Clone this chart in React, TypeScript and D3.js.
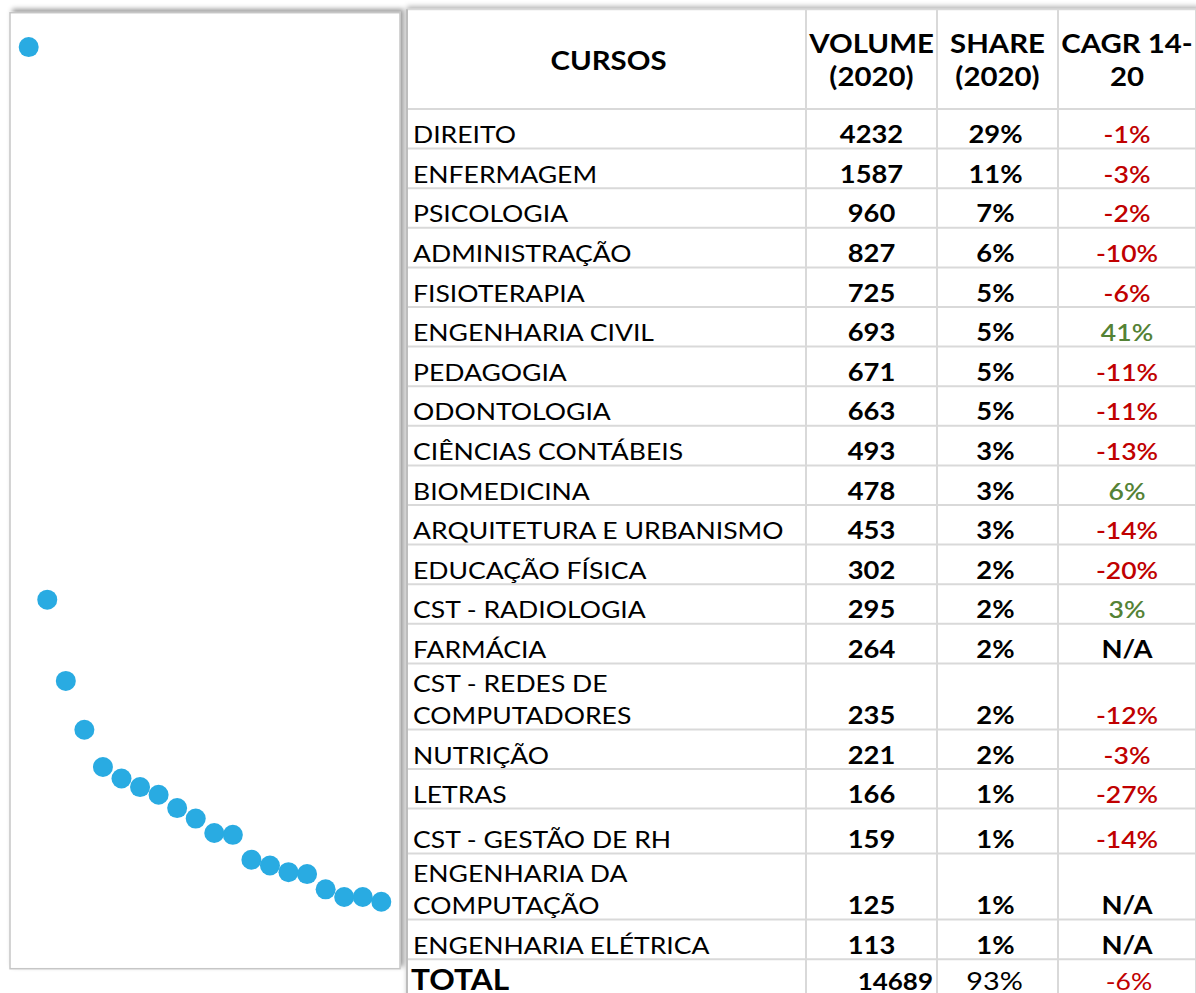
import React, { useEffect, useRef } from "react";
import * as d3 from "d3";

// course table (2020)
const courses = [
  "DIREITO", "ENFERMAGEM", "PSICOLOGIA", "ADMINISTRAÇÃO", "FISIOTERAPIA",
  "ENGENHARIA CIVIL", "PEDAGOGIA", "ODONTOLOGIA", "CIÊNCIAS CONTÁBEIS", "BIOMEDICINA",
  "ARQUITETURA E URBANISMO", "EDUCAÇÃO FÍSICA", "CST - RADIOLOGIA", "FARMÁCIA",
  "CST - REDES DE\nCOMPUTADORES", "NUTRIÇÃO", "LETRAS", "CST - GESTÃO DE RH",
  "ENGENHARIA DA\nCOMPUTAÇÃO", "ENGENHARIA ELÉTRICA",
];
const volumes = [4232, 1587, 960, 827, 725, 693, 671, 663, 493, 478, 453, 302, 295, 264, 235, 221, 166, 159, 125, 113];
const shares = [29, 11, 7, 6, 5, 5, 5, 5, 3, 3, 3, 2, 2, 2, 2, 2, 1, 1, 1, 1];
const cagr = [-1, -3, -2, -10, -6, 41, -11, -11, -13, 6, -14, -20, 3, null, -12, -3, -27, -14, null, null];
const headers = [["CURSOS"], ["VOLUME", "(2020)"], ["SHARE", "(2020)"], ["CAGR 14-", "20"]];
const totalLabel = "TOTAL";
const totalVolume = 14689;
const totalShare = 93;
const totalCagr = -6;

// dots of the left panel (relative units 0-100)
const dotValues = [96.4, 38.6, 30.1, 25.0, 21.1, 19.9, 19.0, 18.2, 16.8, 15.7, 14.2, 14.0, 11.4, 10.8, 10.1, 9.9, 8.3, 7.5, 7.5, 7.0];

const W = 1196;
const H = 993;
const FONT = "Lato, 'Open Sans', sans-serif";
const SX = 1.13; // table text looks horizontally stretched in the source

export default function App() {
  const ref = useRef<SVGSVGElement | null>(null);

  useEffect(() => {
    const svg = d3.select(ref.current);
    svg.selectAll("*").remove();

    const defs = svg.append("defs");
    const sh1 = defs.append("filter").attr("id", "boxShadow").attr("x", "-5%").attr("y", "-5%").attr("width", "110%").attr("height", "110%");
    sh1.append("feDropShadow").attr("dx", 3).attr("dy", -3).attr("stdDeviation", 2.5)
      .attr("flood-color", "#000").attr("flood-opacity", 0.4);
    const sh2 = defs.append("filter").attr("id", "tblShadow").attr("x", "-5%").attr("y", "-5%").attr("width", "110%").attr("height", "110%");
    sh2.append("feDropShadow").attr("dx", 0).attr("dy", -3).attr("stdDeviation", 2.5)
      .attr("flood-color", "#000").attr("flood-opacity", 0.3);

    // ---- left panel: dots ----
    const box = { x: 10, y: 12.7, w: 390, h: 956 };
    svg.append("rect")
      .attr("x", box.x).attr("y", box.y).attr("width", box.w).attr("height", box.h)
      .attr("fill", "#fff").attr("stroke", "#c6c6c6").attr("stroke-width", 1.5)
      .attr("filter", "url(#boxShadow)");

    const x = d3.scalePoint<string>().domain(courses).range([28.7, 381.3]);
    const y = d3.scaleLinear().domain([0, 100]).range([box.y + box.h, box.y]);

    svg.append("g")
      .selectAll("circle")
      .data(dotValues)
      .join("circle")
      .attr("cx", (d, i) => x(courses[i]) as number)
      .attr("cy", (d) => y(d))
      .attr("r", 10)
      .attr("fill", "#29abe2");

    // ---- right panel: table ----
    const colX = [407, 806, 937, 1058, 1196];
    const headTop = 9.3;
    const headBottom = 109;
    const rowHeights = courses.map((c) =>
      c.includes("\n") ? 66 : c === "CST - GESTÃO DE RH" ? 45 : 39.6
    );
    const rowTops: number[] = [];
    let acc = headBottom;
    rowHeights.forEach((h) => {
      rowTops.push(acc);
      acc += h;
    });
    const totalTop = acc;
    const totalBottom = totalTop + 42;

    const tbl = svg.append("g");
    tbl.append("rect")
      .attr("x", colX[0]).attr("y", headTop)
      .attr("width", colX[4] - colX[0] + 4).attr("height", totalBottom - headTop)
      .attr("fill", "#fff").attr("filter", "url(#tblShadow)");

    const gridColor = "#d9d9d9";
    const hLines = [headTop, headBottom, ...rowTops.slice(1), totalTop];
    tbl.append("g").selectAll("line").data(hLines).join("line")
      .attr("x1", colX[0]).attr("x2", colX[4] + 4)
      .attr("y1", (d) => d).attr("y2", (d) => d)
      .attr("stroke", gridColor).attr("stroke-width", 2);
    tbl.append("g").selectAll("line").data(colX).join("line")
      .attr("x1", (d) => d).attr("x2", (d) => d)
      .attr("y1", headTop).attr("y2", totalBottom)
      .attr("stroke", (d, i) => (i === 0 ? "#bdbdbd" : gridColor)).attr("stroke-width", 2);

    const centers = colX.slice(0, 4).map((c, i) => (c + colX[i + 1]) / 2);

    const label = (
      tx: number, ty: number, txt: string,
      opts: { size: number; weight?: number; anchor?: string; fill?: string }
    ) =>
      tbl.append("text")
        .attr("transform", `translate(${tx},${ty}) scale(${SX},1)`)
        .attr("text-anchor", opts.anchor || "start")
        .attr("font-family", FONT)
        .attr("font-weight", opts.weight || 400)
        .attr("font-size", opts.size)
        .attr("fill", opts.fill || "#000")
        .text(txt);

    // header
    headers.forEach((lines, ci) => {
      const mid = (headTop + headBottom) / 2;
      lines.forEach((ln, li) => {
        const base = lines.length === 1 ? mid + 11 : mid - 6 + li * 33;
        label(centers[ci] + (ci === 0 ? 2 : 0), base, ln, { size: 26, weight: 700, anchor: "middle" });
      });
    });

    const cagrColor = (v: number | null) => (v === null ? "#000" : v < 0 ? "#c00000" : "#548235");
    const cagrText = (v: number | null) => (v === null ? "N/A" : `${v}%`);

    courses.forEach((c, i) => {
      const bottom = rowTops[i] + rowHeights[i];
      const base = bottom - 5.5;
      const lines = c.split("\n");
      lines.forEach((ln, li) => {
        label(colX[0] + 6, base - (lines.length - 1 - li) * 32, ln, { size: 23.5 });
      });
      label(centers[1], base, d3.format("d")(volumes[i]), { size: 24.2, weight: 700, anchor: "middle" });
      label(centers[2] - 2, base, `${shares[i]}%`, { size: 24.2, weight: 700, anchor: "middle" });
      label(centers[3], base, cagrText(cagr[i]), {
        size: cagr[i] === null ? 24.2 : 23.5,
        weight: cagr[i] === null ? 700 : 600,
        anchor: "middle",
        fill: cagrColor(cagr[i]),
      });
    });

    // total row
    const tb = totalTop + 31;
    label(colX[0] + 4, tb, totalLabel, { size: 28, weight: 700 });
    label(colX[2] - 4, tb, String(totalVolume), { size: 23, weight: 700, anchor: "end" });
    label(centers[2] - 3, tb, `${totalShare}%`, { size: 25.5, anchor: "middle" });
    label(centers[3] + 2, tb, cagrText(totalCagr), { size: 23.5, anchor: "middle", fill: cagrColor(totalCagr) });
  }, []);

  return (
    <svg
      ref={ref}
      width={W}
      height={H}
      style={{ position: "absolute", left: 0, top: 0, background: "#fff" }}
    />
  );
}
